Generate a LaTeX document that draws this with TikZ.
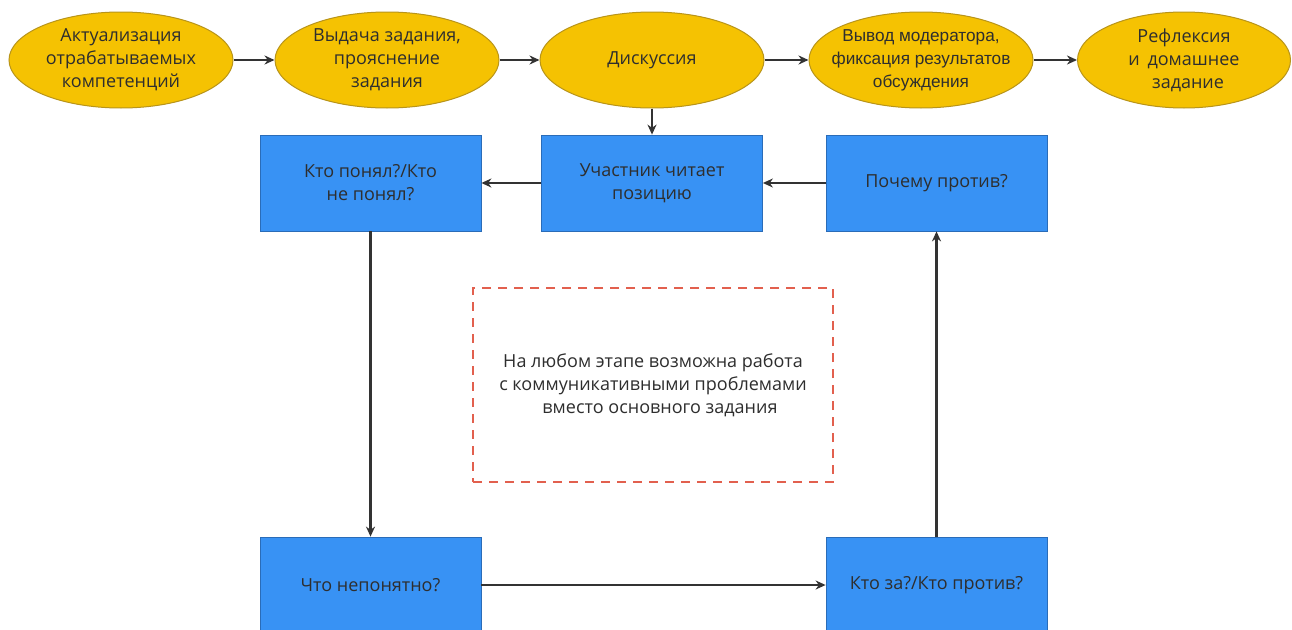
\documentclass[tikz,border=0pt]{standalone}
\usepackage{fontspec}
\setmainfont{Open Sans}
\newfontfamily\arialf{Liberation Sans}
\usetikzlibrary{shapes.geometric,arrows.meta}
\definecolor{ell}{HTML}{F5C202}
\definecolor{elld}{HTML}{B8941A}
\definecolor{boxb}{HTML}{3892F4}
\definecolor{boxd}{HTML}{2A6CB8}
\definecolor{txt}{HTML}{2E2E2E}
\definecolor{dash}{HTML}{E2604E}
\definecolor{ln}{HTML}{333333}
\begin{document}
\begin{tikzpicture}[x=1pt,y=-1pt,
  stage/.style={ellipse,draw=elld,fill=ell,line width=1pt,minimum width=224pt,minimum height=96pt,inner xsep=-40pt,inner ysep=0pt,align=center,text=txt,font=\fontsize{18}{23}\selectfont},
  stepbox/.style={rectangle,draw=boxd,fill=boxb,line width=0.8pt,minimum width=221pt,minimum height=96pt,inner sep=0pt,align=center,text=txt,font=\fontsize{18}{23}\selectfont},
  conn/.style={draw=ln,line width=2.2pt,-{Stealth[length=10pt,width=9pt]}}]
\useasboundingbox (0,0) rectangle (1292,629);
\fill[white] (0,0) rectangle (1292,629);
\node[stage] (e1) at (121,60) {Актуализация\\отрабатываемых\\компетенций};
\node[stage] (e2) at (387,60) {Выдача задания,\\прояснение\\задания};
\node[stage] (e3) at (652,60) {Дискуссия};
\node[stage,font=\arialf\fontsize{17.2}{23}\selectfont] (e4) at (921,60) {Вывод модератора,\\фиксация результатов\\обсуждения};
\node[stage,minimum width=213pt] (e5) at (1184,60) {Рефлексия\\и\hspace{3pt} домашнее\\\hspace{8pt}задание};
\node[stepbox] (b1) at (370.5,183) {Кто понял?/Кто\\не понял?};
\node[stepbox] (b2) at (652,183) {Участник читает\\позицию};
\node[stepbox] (b3) at (936.5,183) {Почему против?};
\node[stepbox] (b4) at (370.5,585) {Что непонятно?};
\node[stepbox] (b5) at (936.5,585) {Кто за?/Кто против?};
\node[draw=dash,dashed,dash pattern=on 9pt off 7pt,line width=1.8pt,minimum width=360pt,minimum height=194pt,align=center,text=txt,font=\fontsize{18}{23}\selectfont] (note) at (653,385) {На любом этапе возможна работа\\с коммуникативными проблемами\\\hspace{14pt}вместо основного задания};
\draw[conn] (e1) -- (e2);
\draw[conn] (e2) -- (e3);
\draw[conn] (e3) -- (e4);
\draw[conn] (e4) -- (e5);
\draw[conn] (e3.south) -- (b2.north);
\draw[conn] (b2) -- (b1);
\draw[conn] (b3) -- (b2);
\draw[conn] (b1) -- (b4);
\draw[conn] (b4) -- (b5);
\draw[conn] (b5) -- (b3);
\end{tikzpicture}
\end{document}
